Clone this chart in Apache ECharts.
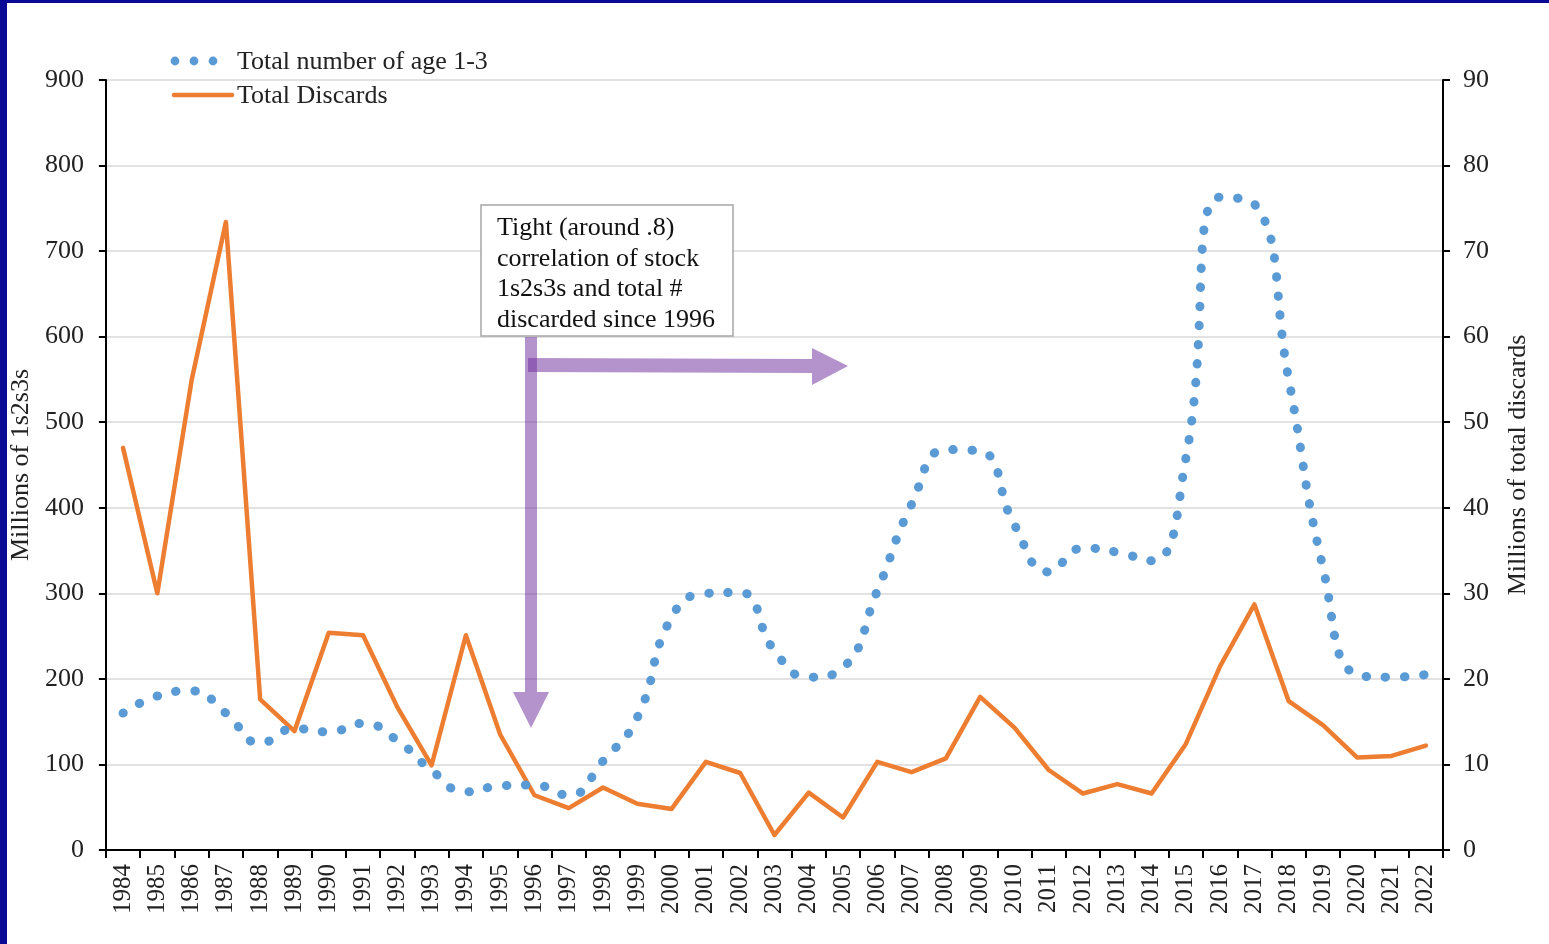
<!DOCTYPE html>
<html>
<head>
<meta charset="utf-8">
<script src="https://cdn.jsdelivr.net/npm/echarts@6/dist/echarts.min.js"></script>
<style>
  html, body { margin: 0; padding: 0; background: #fff; }
  #chart { width: 1549px; height: 944px; }
  .frameTop { position: absolute; left: 0; top: 0; width: 1549px; height: 3px; background: #0a0a96; z-index: 5; }
  .frameLeft { position: absolute; left: 0; top: 0; width: 7px; height: 944px; background: #0a0a96; z-index: 5; }
</style>
</head>
<body>
<div id="chart"></div>
<div class="frameTop"></div>
<div class="frameLeft"></div>
<script>
const years = ['1984','1985','1986','1987','1988','1989','1990','1991','1992','1993','1994','1995','1996','1997','1998','1999','2000','2001','2002','2003','2004','2005','2006','2007','2008','2009','2010','2011','2012','2013','2014','2015','2016','2017','2018','2019','2020','2021','2022'];
const age13Total = [160,180,186,160,125,142,138,148,128,93,68,75,76,64,104,155,272,300,301,233,202,213,303,404,468,466,380,325,353,348,338,458,763,755,550,330,205,202,205];
const totalDiscards = [47.0,30.0,54.9,73.4,17.6,13.9,25.4,25.1,16.7,9.9,25.1,13.5,6.4,4.9,7.3,5.4,4.8,10.3,9.0,1.75,6.7,3.8,10.3,9.1,10.7,17.9,14.3,9.35,6.6,7.7,6.6,12.4,21.5,28.7,17.4,14.6,10.8,11.0,12.2];
const leftTicks = { min: 0, max: 900, interval: 100 };
const rightTicks = { min: 0, max: 90, interval: 10 };
const seriesNames = ['Total number of age 1-3', 'Total Discards'];
const axisNames = ['Millions of 1s2s3s', 'Millions of total discards'];
const noteText = ['Tight (around .8)', 'correlation of stock', '1s2s3s and total #', 'discarded since 1996'];

const FONT = '"Liberation Serif", "DejaVu Serif", serif';
const BLUE = '#5b9bd5';
const ORANGE = '#ed7d31';
const PURPLE = 'rgba(112,48,160,0.52)';

const chart = echarts.init(document.getElementById('chart'), null, { renderer: 'canvas' });
chart.setOption({
  backgroundColor: '#ffffff',
  animation: false,
  grid: { left: 105, right: 106, top: 80, bottom: 94, containLabel: false },
  legend: {
    orient: 'vertical',
    left: 172,
    top: 49,
    padding: 0,
    itemWidth: 60,
    itemHeight: 14,
    itemGap: 8,
    textStyle: { fontFamily: FONT, fontSize: 26, color: '#222' },
    data: [
      { name: seriesNames[0], icon: 'none' },
      { name: seriesNames[1], icon: 'none' }
    ]
  },
  xAxis: {
    type: 'category',
    data: years,
    boundaryGap: true,
    axisLine: { lineStyle: { color: '#000', width: 2 } },
    axisTick: { show: true, length: 8, lineStyle: { color: '#000', width: 2 } },
    axisLabel: { rotate: 90, margin: 14, interval: 0, fontFamily: FONT, fontSize: 25, color: '#222' },
    splitLine: { show: false }
  },
  yAxis: [
    {
      type: 'value',
      position: 'left',
      min: leftTicks.min, max: leftTicks.max, interval: leftTicks.interval,
      name: axisNames[0],
      nameLocation: 'middle',
      nameRotate: 90,
      nameGap: 66,
      nameTextStyle: { fontFamily: FONT, fontSize: 26, color: '#222' },
      axisLine: { show: true, lineStyle: { color: '#000', width: 2 } },
      axisTick: { show: true, length: 7, lineStyle: { color: '#000', width: 2 } },
      axisLabel: { margin: 22, fontFamily: FONT, fontSize: 26, color: '#222' },
      splitLine: { show: true, lineStyle: { color: '#d9d9d9', width: 1.5 } }
    },
    {
      type: 'value',
      position: 'right',
      min: rightTicks.min, max: rightTicks.max, interval: rightTicks.interval,
      name: axisNames[1],
      nameLocation: 'middle',
      nameRotate: 90,
      nameGap: 62,
      nameTextStyle: { fontFamily: FONT, fontSize: 26, color: '#222' },
      axisLine: { show: true, lineStyle: { color: '#000', width: 2 } },
      axisTick: { show: true, length: 7, lineStyle: { color: '#000', width: 2 } },
      axisLabel: { margin: 20, fontFamily: FONT, fontSize: 26, color: '#222' },
      splitLine: { show: false }
    }
  ],
  series: [
    {
      name: seriesNames[0],
      type: 'line',
      yAxisIndex: 0,
      data: age13Total,
      smooth: 0.5,
      symbol: 'none',
      showSymbol: false,
      z: 3,
      lineStyle: { color: BLUE, width: 9, type: [0.5, 18.6], cap: 'round', join: 'round' },
      itemStyle: { color: BLUE }
    },
    {
      name: seriesNames[1],
      type: 'line',
      yAxisIndex: 1,
      data: totalDiscards,
      smooth: false,
      symbol: 'none',
      showSymbol: false,
      z: 2,
      lineStyle: { color: ORANGE, width: 4.5, cap: 'round', join: 'round' },
      itemStyle: { color: ORANGE }
    }
  ],
  graphic: [
    // legend markers
    { type: 'circle', shape: { cx: 175, cy: 61, r: 4.4 }, style: { fill: BLUE }, z: 100 },
    { type: 'circle', shape: { cx: 194, cy: 61, r: 4.4 }, style: { fill: BLUE }, z: 100 },
    { type: 'circle', shape: { cx: 213, cy: 61, r: 4.4 }, style: { fill: BLUE }, z: 100 },
    { type: 'line', shape: { x1: 174, y1: 95, x2: 232, y2: 95 }, style: { stroke: ORANGE, lineWidth: 4.5, lineCap: 'round' }, z: 100 },
    // annotation box
    {
      type: 'rect', z: 50,
      shape: { x: 481, y: 205, width: 252, height: 131 },
      style: { fill: '#fff', stroke: '#a6a6a6', lineWidth: 1.5 }
    },
    {
      type: 'text', z: 51,
      style: {
        x: 497, y: 213,
        text: noteText.join('\n'),
        font: '26px ' + FONT,
        lineHeight: 30.5,
        fill: '#111',
        textVerticalAlign: 'top'
      }
    },
    // vertical arrow
    {
      type: 'polygon', z: 40,
      shape: { points: [[525, 337], [537, 337], [537, 692], [549, 692], [531, 728], [513, 692], [525, 692]] },
      style: { fill: PURPLE }
    },
    // horizontal arrow
    {
      type: 'polygon', z: 41,
      shape: { points: [[528, 358], [812, 359], [812, 348], [848, 366], [812, 385], [812, 373], [528, 372]] },
      style: { fill: PURPLE }
    }
  ]
});
</script>
</body>
</html>
